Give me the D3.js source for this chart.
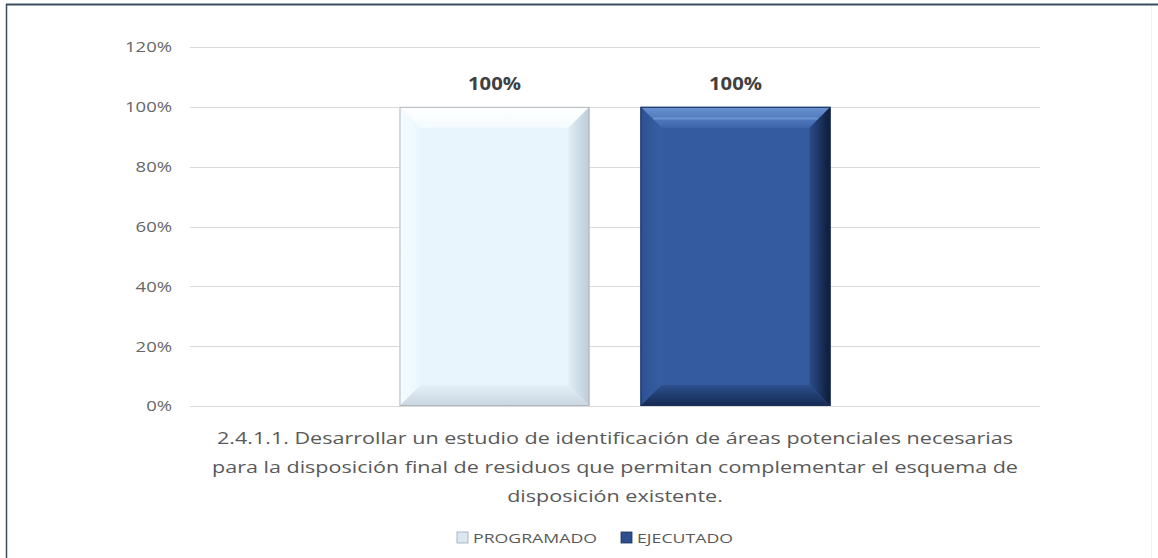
<!DOCTYPE html>
<html><head><meta charset="utf-8">
<script src="https://cdn.jsdelivr.net/npm/d3@7/dist/d3.min.js"></script>
<style>body{margin:0;background:#fff;}svg{display:block;}</style>
</head><body>
<script>
const categories = ["2.4.1.1. Desarrollar un estudio de identificación de áreas potenciales necesarias para la disposición final de residuos que permitan complementar el esquema de disposición existente."];
const categoryLines = ["2.4.1.1. Desarrollar un estudio de identificación de áreas potenciales necesarias","para la disposición final de residuos que permitan complementar el esquema de","disposición existente."];
const seriesNames = ["PROGRAMADO","EJECUTADO"];
const programado = [1.0];
const ejecutado = [1.0];
const yTicks = [0,0.2,0.4,0.6,0.8,1.0,1.2];

const W=1158,H=558;
const svg=d3.select("body").append("svg").attr("width",W).attr("height",H);
const defs=svg.append("defs");
const font="'Open Sans', sans-serif";

// stretch helper: widen text horizontally so the reference string reaches a target width
function stretch(sel, factor){
  sel.each(function(){
    const w=this.getComputedTextLength();
    d3.select(this).attr("textLength",w*factor).attr("lengthAdjust","spacingAndGlyphs");
  });
}
function factorFor(size,weight,str,target){
  const t=svg.append("text").attr("font-family",font).attr("font-size",size).attr("font-weight",weight).text(str);
  const w=t.node().getComputedTextLength(); t.remove(); return target/w;
}

// frame
svg.append("rect").attr("x",0).attr("y",0).attr("width",W).attr("height",H).attr("fill","#fff");
svg.append("line").attr("x1",6).attr("x2",W).attr("y1",4.5).attr("y2",4.5).attr("stroke","#3b4b5e").attr("stroke-width",2);
svg.append("line").attr("x1",6.5).attr("x2",6.5).attr("y1",4).attr("y2",H).attr("stroke","#3b4b5e").attr("stroke-width",1.5);
svg.append("line").attr("x1",1151.5).attr("x2",1151.5).attr("y1",6).attr("y2",H).attr("stroke","#f0f0f0").attr("stroke-width",1);

const m={l:190,r:1040,t:47,b:406};
const y=d3.scaleLinear().domain([0,1.2]).range([m.b,m.t]);
const x0=d3.scaleBand().domain(categories).range([m.l,m.r]).paddingInner(0).paddingOuter(0.486);
const x1=d3.scaleBand().domain(seriesNames).range([0,x0.bandwidth()]).paddingInner(0.2116);

// grid
const g=svg.append("g");
g.selectAll("line.grid").data(yTicks).join("line")
 .attr("x1",m.l).attr("x2",m.r).attr("y1",d=>Math.round(y(d))+0.5).attr("y2",d=>Math.round(y(d))+0.5)
 .attr("stroke","#d9d9d9").attr("stroke-width",1);
const tf=factorFor(15,"normal","100%",47);
const yt=g.selectAll("text.yt").data(yTicks).join("text")
 .attr("x",172).attr("y",d=>y(d)).attr("dy","0.36em").attr("text-anchor","end")
 .attr("font-family",font).attr("font-size",15).attr("fill","#666666")
 .text(d=>d3.format(".0%")(d));
stretch(yt,tf);

const styles={
 PROGRAMADO:{c:"#e8f5fc",top:["#ffffff","#f4fbfe"],left:["#f6fcff","#eaf7fd"],right:["#bccbd8","#e0edf5"],bot:["#c9d6e1","#e3f0f7"],stroke:"#b0b6bc"},
 EJECUTADO:{c:"#345b9f",top:["#6a93d2","#3d66ab"],left:["#2e5293","#365ea3"],right:["#0c1a35","#2b4d8c"],bot:["#162a52","#2c4f8e"],stroke:"#1a2e55"}
};
function grad(id,x1,y1,x2,y2,c){
  const lg=defs.append("linearGradient").attr("id",id).attr("x1",x1).attr("y1",y1).attr("x2",x2).attr("y2",y2);
  lg.append("stop").attr("offset","0%").attr("stop-color",c[0]);
  lg.append("stop").attr("offset","100%").attr("stop-color",c[1]);
  return `url(#${id})`;
}
const data=[];
categories.forEach((c,i)=>{
  data.push({cat:c,s:"PROGRAMADO",v:programado[i]});
  data.push({cat:c,s:"EJECUTADO",v:ejecutado[i]});
});
const bv=21;
const lf=factorFor(17,"bold","100%",53);
data.forEach((d,i)=>{
  const xl=x0(d.cat)+x1(d.s), xr=xl+x1.bandwidth(), ytp=y(d.v), yb=y(0);
  const st=styles[d.s];
  const bg=svg.append("g");
  bg.append("rect").attr("x",xl).attr("y",ytp).attr("width",xr-xl).attr("height",yb-ytp).attr("fill",st.c);
  const poly=(pts,f)=>bg.append("polygon").attr("points",pts.map(p=>p.join(",")).join(" ")).attr("fill",f);
  poly([[xl,ytp],[xr,ytp],[xr-bv,ytp+bv],[xl+bv,ytp+bv]],grad("t"+i,0,0,0,1,st.top));
  poly([[xl,ytp],[xl+bv,ytp+bv],[xl+bv,yb-bv],[xl,yb]],grad("l"+i,0,0,1,0,st.left));
  poly([[xr,ytp],[xr,yb],[xr-bv,yb-bv],[xr-bv,ytp+bv]],grad("r"+i,1,0,0,0,st.right));
  poly([[xl,yb],[xl+bv,yb-bv],[xr-bv,yb-bv],[xr,yb]],grad("b"+i,0,1,0,0,st.bot));
  if(d.s==="EJECUTADO"){
    bg.append("line").attr("x1",xl+bv*0.6).attr("x2",xr-bv*0.6).attr("y1",ytp+bv*0.55).attr("y2",ytp+bv*0.55).attr("stroke","#7ea3dc").attr("stroke-width",2).attr("opacity",0.6);
  }
  bg.append("rect").attr("x",xl+0.5).attr("y",ytp+0.5).attr("width",xr-xl-1).attr("height",yb-ytp-1).attr("fill","none").attr("stroke",st.stroke).attr("stroke-width",1);
  const lt=svg.append("text").attr("x",(xl+xr)/2).attr("y",ytp-17).attr("text-anchor","middle")
   .attr("font-family",font).attr("font-weight","bold").attr("font-size",17).attr("fill","#404040")
   .text(d3.format(".0%")(d.v));
  stretch(lt,lf);
});

// category label
const cx=x0(categories[0])+x0.bandwidth()/2;
const cf=factorFor(17,"normal",categoryLines[0],796);
categoryLines.forEach((t,i)=>{
  const tt=svg.append("text").attr("x",cx).attr("y",444+i*29).attr("text-anchor","middle")
   .attr("font-family",font).attr("font-size",17).attr("fill","#595959").text(t);
  stretch(tt,cf);
});

// legend
const lgf=factorFor(13.5,"normal","PROGRAMADO",124);
const lg=svg.append("g");
const items=[{n:seriesNames[0],x:457,f:"#dbe8f2",s:"#9aa7b3"},{n:seriesNames[1],x:621,f:"#2d4f8c",s:"#1b3260"}];
items.forEach(it=>{
  lg.append("rect").attr("x",it.x).attr("y",532).attr("width",11).attr("height",11).attr("fill",it.f).attr("stroke",it.s).attr("stroke-width",0.8);
  const t=lg.append("text").attr("x",it.x+16).attr("y",543).attr("font-family",font).attr("font-size",13.5).attr("fill","#595959").text(it.n);
  stretch(t,lgf);
});
</script>
</body></html>
